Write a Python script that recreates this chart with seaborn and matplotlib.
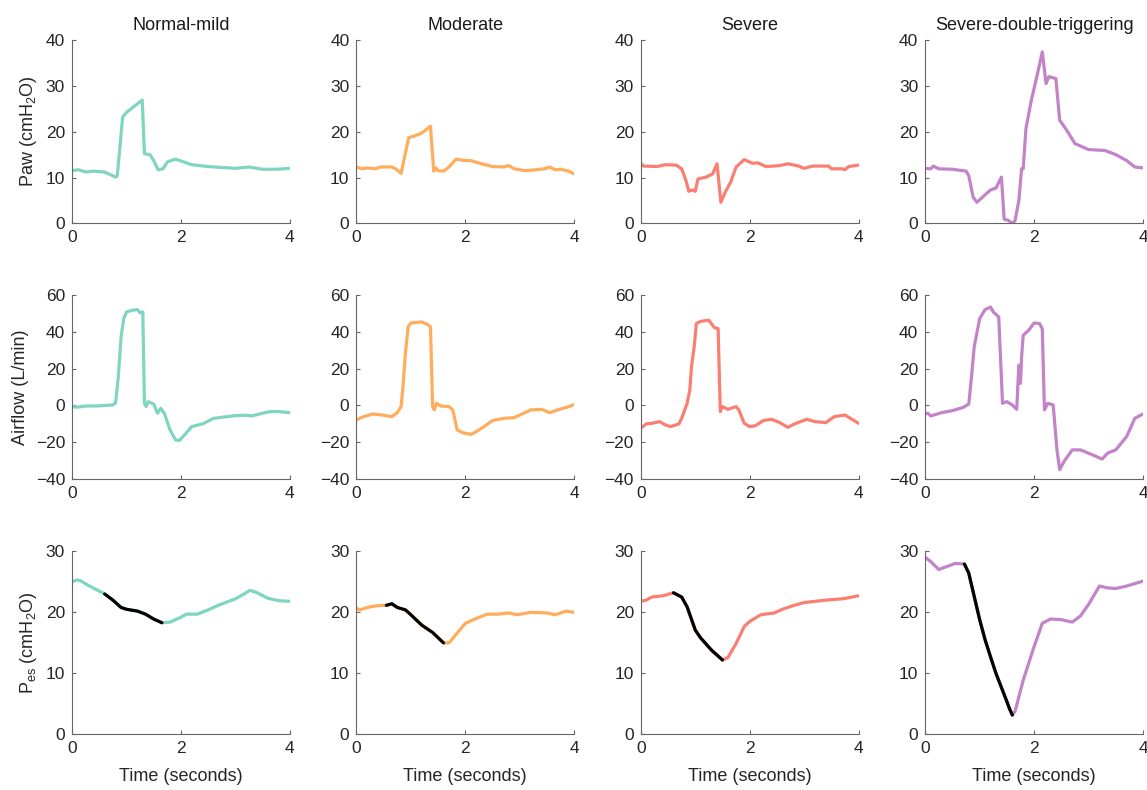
import numpy as np
import matplotlib
matplotlib.use("Agg")
import matplotlib.pyplot as plt
import seaborn as sns

# --- datos (tiempo en s) ---
col_titles = ["Normal-mild", "Moderate", "Severe", "Severe-double-triggering"]
col_colors = ["#7FD5C2", "#FFAD5C", "#FA7F72", "#C283C9"]

# Fila 1: Paw (cmH2O)
t_paw_normal = [0, 0.12, 0.25, 0.4, 0.6, 0.8, 0.83, 0.93, 1.0, 1.29, 1.33, 1.43, 1.5, 1.58, 1.67, 1.75,
                1.9, 2.2, 2.5, 3.0, 3.25, 3.5, 3.75, 4.0]
paw_normal = [11.5, 11.7, 11.2, 11.4, 11.2, 10.1, 10.3, 23.2, 24.2, 26.9, 15.2, 15.0, 13.7, 11.7, 11.9, 13.4,
              14.0, 12.8, 12.4, 12.0, 12.3, 11.8, 11.8, 12.0]

t_paw_moderate = [0, 0.1, 0.2, 0.35, 0.45, 0.65, 0.72, 0.82, 0.96, 1.05, 1.2, 1.36, 1.42, 1.46, 1.5, 1.6, 1.7,
                  1.83, 2.0, 2.1, 2.3, 2.5, 2.7, 2.8, 2.9, 3.1, 3.3, 3.45, 3.55, 3.65, 3.75, 3.9, 4.0]
paw_moderate = [12.3, 11.9, 12.1, 11.9, 12.3, 12.3, 11.9, 10.9, 18.7, 19.0, 19.7, 21.2, 11.4, 12.1, 11.5, 11.4, 12.3,
                14.0, 13.7, 13.7, 13.0, 12.4, 12.3, 12.6, 11.9, 11.5, 11.7, 11.9, 12.3, 11.7, 11.8, 11.4, 10.8]

t_paw_severe = [0, 0.05, 0.3, 0.45, 0.65, 0.75, 0.83, 0.88, 0.95, 1.0, 1.05, 1.2, 1.32, 1.4, 1.47, 1.55, 1.65,
                1.75, 1.9, 2.05, 2.15, 2.3, 2.55, 2.7, 2.9, 3.0, 3.15, 3.45, 3.5, 3.7, 3.75, 3.82, 4.0]
paw_severe = [13.1, 12.5, 12.4, 12.8, 12.7, 11.9, 9.3, 7.0, 7.3, 7.0, 9.7, 10.1, 10.8, 13.0, 4.6, 6.8, 9.0,
              12.3, 13.9, 13.1, 13.2, 12.4, 12.6, 13.0, 12.5, 12.0, 12.5, 12.5, 11.9, 11.9, 11.7, 12.4, 12.7]

t_paw_double = [0, 0.1, 0.15, 0.25, 0.5, 0.75, 0.8, 0.88, 0.95, 1.05, 1.2, 1.3, 1.4, 1.45, 1.52, 1.6, 1.65,
                1.72, 1.77, 1.8, 1.85, 1.95, 2.05, 2.15, 2.22, 2.27, 2.4, 2.47, 2.6, 2.75, 3.0, 3.3, 3.5,
                3.7, 3.85, 4.0]
paw_double = [12.0, 11.9, 12.5, 11.9, 11.8, 11.4, 10.4, 5.7, 4.6, 5.7, 7.3, 7.7, 10.1, 0.9, 0.7, 0.0, 0.6,
              5.0, 11.9, 11.9, 20.7, 26.9, 32.0, 37.4, 30.5, 32.0, 31.6, 22.5, 20.3, 17.4, 16.1, 15.9, 15.0,
              13.7, 12.3, 12.1]

# Fila 2: Airflow (L/min)
t_flow_normal = [0, 0.1, 0.25, 0.5, 0.75, 0.8, 0.85, 0.9, 0.95, 1.0, 1.1, 1.2, 1.25, 1.3, 1.33, 1.36, 1.4,
                 1.5, 1.57, 1.63, 1.7, 1.8, 1.9, 1.97, 2.05, 2.2, 2.4, 2.6, 3.0, 3.2, 3.3, 3.6, 3.75, 4.0]
flow_normal = [-0.7, -1.0, -0.4, -0.3, 0.2, 1.4, 15.6, 37.0, 47.3, 50.9, 51.8, 52.2, 50.5, 50.9, 1.0, -0.7, 2.0,
               0.7, -4.3, -1.6, -4.7, -13.4, -18.8, -19.2, -16.7, -11.6, -10.1, -7.1, -5.6, -5.4, -5.8, -3.6,
               -3.3, -4.0]

t_flow_moderate = [0, 0.1, 0.3, 0.5, 0.65, 0.75, 0.82, 0.85, 0.9, 0.95, 1.0, 1.2, 1.3, 1.36, 1.4, 1.43, 1.47,
                   1.55, 1.7, 1.77, 1.85, 1.95, 2.1, 2.15, 2.3, 2.5, 2.7, 2.9, 3.0, 3.2, 3.4, 3.55, 3.7, 3.9, 4.0]
flow_moderate = [-8.0, -6.5, -4.7, -5.4, -6.2, -4.0, -0.7, 8.3, 28.3, 42.8, 44.9, 45.5, 44.2, 42.8, -0.7, -2.5,
                 1.1, -0.4, -0.7, -2.5, -13.4, -14.9, -15.8, -15.2, -12.5, -8.3, -7.1, -6.7, -5.3, -2.5, -2.2,
                 -4.0, -2.5, -0.7, 0.4]

t_flow_severe = [0, 0.1, 0.2, 0.35, 0.45, 0.55, 0.7, 0.75, 0.85, 0.9, 0.93, 0.98, 1.02, 1.1, 1.25, 1.35, 1.42,
                 1.46, 1.5, 1.6, 1.75, 1.8, 1.9, 2.0, 2.1, 2.25, 2.4, 2.55, 2.7, 2.85, 3.05, 3.2, 3.4, 3.55,
                 3.75, 3.9, 4.0]
flow_severe = [-12.5, -10.1, -9.8, -8.9, -10.7, -11.6, -10.1, -7.1, 1.1, 8.3, 21.0, 31.9, 44.6, 45.8, 46.4, 42.4,
               41.8, -3.4, -0.7, -2.2, -0.7, -2.5, -9.8, -11.6, -11.2, -8.3, -7.6, -9.4, -12.0, -9.8, -7.6,
               -8.9, -9.4, -6.2, -5.3, -8.0, -9.8]

t_flow_double = [0, 0.05, 0.1, 0.3, 0.5, 0.7, 0.8, 0.85, 0.9, 1.0, 1.1, 1.2, 1.25, 1.35, 1.42, 1.5, 1.6, 1.68,
                 1.72, 1.75, 1.77, 1.8, 1.9, 2.0, 2.1, 2.15, 2.19, 2.25, 2.35, 2.42, 2.47, 2.55, 2.7, 2.85,
                 3.0, 3.25, 3.35, 3.5, 3.7, 3.85, 4.0]
flow_double = [-4.7, -4.3, -5.8, -4.0, -2.9, -1.1, 0.7, 15.6, 31.9, 47.3, 52.2, 53.6, 50.9, 48.2, 1.1, 2.0, 0.2,
               -2.2, 21.9, 12.0, 26.4, 38.2, 40.9, 44.9, 44.6, 41.8, -2.5, 1.1, 0.2, -24.3, -35.1, -30.6,
               -24.3, -24.3, -26.1, -29.3, -26.1, -24.3, -17.0, -7.1, -4.7]

# Fila 3: Pes (cmH2O)
t_pes_normal = [0, 0.1, 0.15, 0.3, 0.45, 0.6, 0.75, 0.9, 1.0, 1.2, 1.35, 1.5, 1.65, 1.8, 2.0, 2.1, 2.3, 2.5,
                2.7, 3.0, 3.1, 3.27, 3.4, 3.6, 3.8, 4.0]
pes_normal = [24.9, 25.2, 25.1, 24.3, 23.6, 22.9, 21.9, 20.7, 20.4, 20.1, 19.6, 18.8, 18.2, 18.3, 19.1, 19.6,
              19.6, 20.3, 21.1, 22.1, 22.6, 23.5, 23.1, 22.2, 21.8, 21.7]

t_pes_moderate = [0, 0.05, 0.25, 0.4, 0.55, 0.65, 0.75, 0.9, 1.0, 1.2, 1.4, 1.6, 1.7, 1.85, 2.0, 2.2, 2.4,
                  2.6, 2.8, 2.95, 3.2, 3.5, 3.65, 3.85, 4.0]
pes_moderate = [20.6, 20.3, 20.8, 21.0, 21.05, 21.3, 20.7, 20.3, 19.5, 17.8, 16.6, 14.9, 14.9, 16.5, 18.1, 18.9,
                19.6, 19.6, 19.8, 19.5, 19.9, 19.8, 19.5, 20.1, 19.9]

t_pes_severe = [0, 0.1, 0.2, 0.4, 0.6, 0.75, 0.85, 1.0, 1.1, 1.3, 1.5, 1.6, 1.75, 1.9, 2.0, 2.2, 2.45, 2.6,
                2.8, 3.0, 3.2, 3.4, 3.7, 4.0]
pes_severe = [21.7, 21.9, 22.4, 22.6, 23.1, 22.4, 20.8, 17.0, 15.7, 13.7, 12.1, 12.5, 14.8, 17.6, 18.4, 19.5,
              19.8, 20.4, 21.0, 21.5, 21.7, 21.9, 22.1, 22.6]

t_pes_double = [0, 0.1, 0.25, 0.4, 0.55, 0.72, 0.8, 0.9, 1.0, 1.1, 1.2, 1.3, 1.4, 1.5, 1.55, 1.6, 1.65, 1.8,
                2.0, 2.15, 2.3, 2.5, 2.7, 2.85, 3.0, 3.2, 3.35, 3.5, 3.7, 4.0]
pes_double = [28.9, 28.2, 26.9, 27.4, 27.9, 27.8, 26.3, 22.5, 18.7, 15.4, 12.6, 9.9, 7.6, 5.3, 4.1, 3.1, 3.7,
              8.8, 14.3, 18.1, 18.8, 18.7, 18.3, 19.3, 21.2, 24.2, 23.9, 23.8, 24.2, 25.0]

# tramo negro (inicio, fin) en Pes
black_start = [0.6, 0.55, 0.6, 0.72]
black_end = [1.65, 1.6, 1.5, 1.6]

row_labels = ["Paw (cmH$_\\mathregular{2}$O)", "Airflow (L/min)",
              "P$_\\mathregular{es}$ (cmH$_\\mathregular{2}$O)"]
row_ylims = [(0, 40), (-40, 60), (0, 30)]
row_yticks = [[0, 10, 20, 30, 40], [-40, -20, 0, 20, 40, 60], [0, 10, 20, 30]]
x_ticks = [0, 2, 4]

paw = [(t_paw_normal, paw_normal), (t_paw_moderate, paw_moderate),
       (t_paw_severe, paw_severe), (t_paw_double, paw_double)]
flow = [(t_flow_normal, flow_normal), (t_flow_moderate, flow_moderate),
        (t_flow_severe, flow_severe), (t_flow_double, flow_double)]
pes = [(t_pes_normal, pes_normal), (t_pes_moderate, pes_moderate),
       (t_pes_severe, pes_severe), (t_pes_double, pes_double)]
rows = [paw, flow, pes]

# --- estilo ---
sns.set_style("ticks")
plt.rcParams["font.family"] = ["Liberation Sans", "DejaVu Sans"]
plt.rcParams["mathtext.fontset"] = "custom"
plt.rcParams["mathtext.rm"] = "Liberation Sans"
plt.rcParams["mathtext.it"] = "Liberation Sans:italic"
plt.rcParams["xtick.direction"] = "in"
plt.rcParams["ytick.direction"] = "in"

fig, axes = plt.subplots(3, 4, figsize=(11.47, 7.90), dpi=100)
fig.subplots_adjust(left=0.0628, right=0.9965, top=0.9494, bottom=0.0709, wspace=0.306, hspace=0.392)

LW = 2.3
for r in range(3):
    for c in range(4):
        ax = axes[r, c]
        t = np.array(rows[r][c][0])
        v = np.array(rows[r][c][1])
        sns.lineplot(x=t, y=v, ax=ax, color=col_colors[c], lw=LW, estimator=None,
                     solid_joinstyle="round", solid_capstyle="round")
        if r == 2:
            m = (t >= black_start[c]) & (t <= black_end[c])
            sns.lineplot(x=t[m], y=v[m], ax=ax, color="black", lw=LW, estimator=None,
                         solid_joinstyle="round")
        ax.set_xlim(0, 4)
        ax.set_ylim(*row_ylims[r])
        ax.set_xticks(x_ticks)
        ax.set_yticks(row_yticks[r])
        sns.despine(ax=ax)
        for s in ("left", "bottom"):
            ax.spines[s].set_color("#666666")
            ax.spines[s].set_linewidth(0.8)
        ax.tick_params(labelsize=12.5, colors="#666666", labelcolor="#262626", length=3, width=0.8, pad=5)
        ax.set_xlabel("Time (seconds)" if r == 2 else "", fontsize=13, color="#262626", labelpad=9)
        ax.set_ylabel(row_labels[r] if c == 0 else "", fontsize=13, color="#262626", labelpad=5)
        if r == 0:
            ax.set_title(col_titles[c], fontsize=13, color="#1a1a1a", pad=7)

fig.savefig("out.png", dpi=100)
